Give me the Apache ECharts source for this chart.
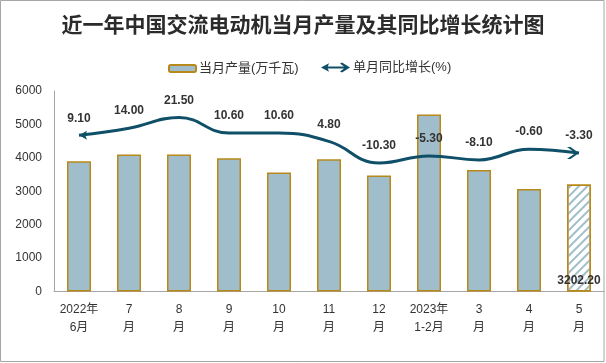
<!DOCTYPE html>
<html>
<head>
<meta charset="utf-8">
<script src="https://cdn.jsdelivr.net/npm/echarts@6/dist/echarts.min.js"></script>
<style>
html,body{margin:0;padding:0;background:#fff;}
#chart{width:606px;height:363px;}
</style>
</head>
<body>
<div id="chart"></div>
<script>
const categories = ['2022年\n6月','7\n月','8\n月','9\n月','10\n月','11\n月','12\n月','2023年\n1-2月','3\n月','4\n月','5\n月'];
const output = [3900, 4100, 4100, 3985, 3560, 3955, 3475, 5300, 3635, 3065, 3202.2];
const growth = [9.10, 14.00, 21.50, 10.60, 10.60, 4.80, -10.30, -5.30, -8.10, -0.60, -3.30];
const yTicks = [0, 1000, 2000, 3000, 4000, 5000, 6000];

const FONT = "'Liberation Sans','Noto Sans CJK SC',sans-serif";
const BAR = '#9fbdcb';
const BORDER = '#b8891a';
const LINE = '#0f5068';
const last = output.length - 1;

const barData = output.map((v, i) => {
  if (i === last) {
    return {
      value: v,
      itemStyle: {
        color: '#ffffff',
        decal: {symbol: 'rect', dashArrayX: [1, 0], dashArrayY: [2, 4], rotation: -Math.PI / 4, color: BAR}
      },
      label: {show: true, position: 'insideBottom', distance: 5, formatter: p => p.value.toFixed(2),
        color: '#333', fontSize: 12, fontWeight: 'bold', fontFamily: FONT}
    };
  }
  return v;
});

const arrowData = growth.map((v, i) => {
  if (i === 0) return {value: [i, v], symbol: 'path://M0,4.5 L7,0 L5.5,4.5 L7,9 Z', symbolSize: [8, 9], symbolOffset: [4, 0]};
  if (i === last) return {value: [i, v], symbol: 'path://M0,0 L3.2,0 L11,6 L3.2,12 L0,12 L7.8,6 Z', symbolSize: [12, 12], symbolOffset: [-6, 0]};
  return null;
}).filter(d => d);

const chart = echarts.init(document.getElementById('chart'));
chart.setOption({
  animation: false,
  backgroundColor: '#fff',
  title: {
    text: '近一年中国交流电动机当月产量及其同比增长统计图',
    left: 'center', top: 9,
    textStyle: {fontSize: 21, fontWeight: 'bold', color: '#2b2b2b', fontFamily: "'Noto Sans CJK SC',sans-serif"}
  },
  legend: [
    {data: ['当月产量(万千瓦)'], left: 163, top: 57, itemWidth: 27, itemHeight: 7, itemGap: 0,
      textStyle: {fontSize: 13, color: '#333', fontFamily: FONT, padding: [0, 0, 0, -2]}},
    {data: [{name: '单月同比增长(%)', icon: 'path://M0,5 L8,0.8 L6.8,4 L23,4 L19,1 L21,0 L29,5 L21,10 L19,9 L23,6 L6.8,6 L8,9.2 Z'}],
      left: 316, top: 56, itemWidth: 29, itemHeight: 10, itemGap: 0,
      textStyle: {fontSize: 13, color: '#333', fontFamily: FONT, padding: [0, 0, 0, -2]},
      itemStyle: {color: LINE}}
  ],
  grid: {left: 54, right: 2, top: 91, bottom: 71.5},
  xAxis: {
    type: 'category', data: categories,
    axisLine: {lineStyle: {color: '#a6a6a6', width: 1}},
    axisTick: {show: false},
    axisLabel: {color: '#333', fontSize: 12, lineHeight: 18, margin: 9, fontFamily: FONT, interval: 0}
  },
  yAxis: [
    {type: 'value', min: yTicks[0], max: yTicks[yTicks.length - 1], interval: 1000,
      axisLine: {show: true, lineStyle: {color: '#a6a6a6'}},
      axisTick: {show: false}, splitLine: {show: false},
      axisLabel: {color: '#333', fontSize: 12, margin: 12, fontFamily: FONT, formatter: v => String(v)}},
    {type: 'value', min: -100, max: 40, show: false, splitLine: {show: false}}
  ],
  series: [
    {name: '当月产量(万千瓦)', type: 'bar', data: barData, barWidth: 24,
      itemStyle: {color: BAR, borderColor: BORDER, borderWidth: 1.5}},
    {name: '单月同比增长(%)', type: 'line', yAxisIndex: 1, data: growth, smooth: 0.45,
      symbol: 'circle', symbolSize: 0.1, showSymbol: true,
      lineStyle: {color: LINE, width: 3}, itemStyle: {color: LINE},
      label: {show: true, position: 'top', distance: 10, formatter: p => p.value.toFixed(2),
        color: '#333', fontSize: 12, fontWeight: 'bold', fontFamily: FONT, lineHeight: 14}, z: 3},
    {name: 'arrows', type: 'scatter', yAxisIndex: 1, data: arrowData, itemStyle: {color: LINE, opacity: 1}, z: 4, silent: true}
  ],
  graphic: [
    {type: 'rect', shape: {x: 0.5, y: 0.5, width: 603.5, height: 361}, style: {fill: 'none', stroke: '#a6a6a6', lineWidth: 1}, z: 100}
  ]
});
</script>
</body>
</html>
